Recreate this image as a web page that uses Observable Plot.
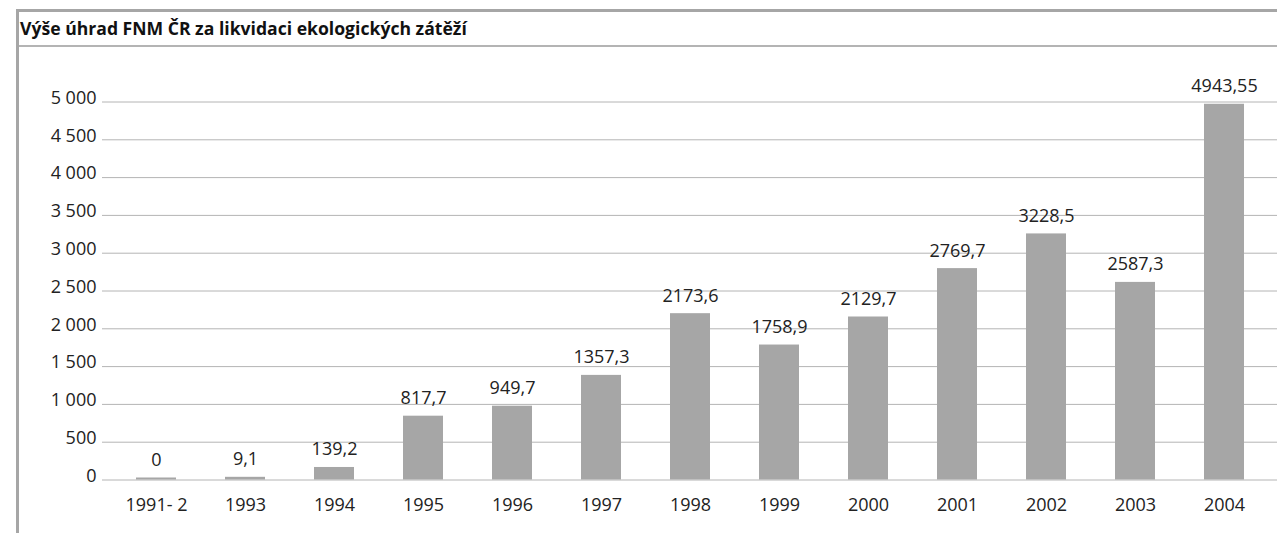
<!DOCTYPE html>
<html><head><meta charset="utf-8">
<script src="https://cdn.jsdelivr.net/npm/d3@7"></script>
<script src="https://cdn.jsdelivr.net/npm/@observablehq/plot@0.6"></script>
<style>
body{margin:0;background:#fff;font-family:"Open Sans",sans-serif;}
#frame{position:absolute;left:16px;top:9px;width:1261px;height:524px;border-top:3px solid #a6a6a6;border-left:3px solid #a6a6a6;box-sizing:border-box;}
#title{height:33px;line-height:33px;font-weight:bold;font-size:17.6px;padding-left:1px;border-bottom:2px solid #b4b4b4;color:#111;white-space:nowrap;}
#chart svg{display:block;}
</style></head><body>
<div id="frame"><div id="title">Výše úhrad FNM ČR za likvidaci ekologických zátěží</div><div id="chart"></div></div>
<script>
const categories = ["1991- 2","1993","1994","1995","1996","1997","1998","1999","2000","2001","2002","2003","2004"];
const values = [0, 9.1, 139.2, 817.7, 949.7, 1357.3, 2173.6, 1758.9, 2129.7, 2769.7, 3228.5, 2587.3, 4943.55];
const yTicks = [0, 500, 1000, 1500, 2000, 2500, 3000, 3500, 4000, 4500, 5000];

const data = categories.map((c, i) => ({cat: c, value: values[i]}));
const fmtTick = d => d >= 1000 ? String(Math.floor(d / 1000)) + " " + String(d % 1000).padStart(3, "0") : String(d);
const fmtVal = d => String(d).replace(".", ",");
const font = '"Open Sans", sans-serif';
const fs = 18;

const chart = Plot.plot({
  width: 1258,
  height: 486,
  marginLeft: 83,
  marginRight: 0,
  marginTop: 54.5,
  marginBottom: 53.5,
  style: {fontFamily: font, fontSize: fs + "px", color: "#222", background: "transparent"},
  x: {domain: categories, range: [90.4, 1250.6], paddingInner: 0.552, paddingOuter: 0.276, label: null},
  y: {domain: [0, 5000], label: null},
  marks: [
    Plot.gridY(yTicks, {stroke: "#b4b4b4", strokeOpacity: 1, strokeWidth: 1}),
    Plot.axisY(yTicks, {tickSize: 0, tickPadding: 6, tickFormat: fmtTick, dy: -4, fontSize: fs, fill: "#222"}),
    Plot.axisX({tickSize: 0, tickPadding: 18, fontSize: fs, fill: "#222"}),
    Plot.barY(data, {x: "cat", y: "value", fill: "#a6a6a6", insetTop: -2}),
    Plot.text(data, {x: "cat", y: "value", text: d => fmtVal(d.value), dy: -14, lineAnchor: "bottom", fontSize: fs, fill: "#222"})
  ]
});
document.getElementById("chart").appendChild(chart);
</script>
</body></html>
